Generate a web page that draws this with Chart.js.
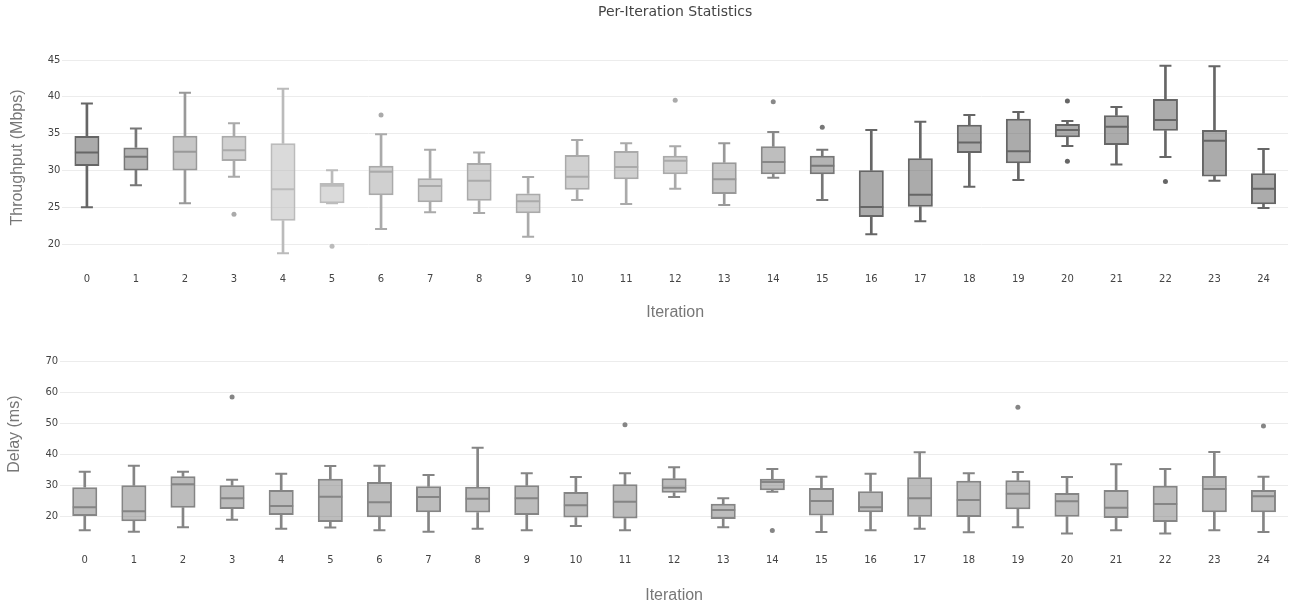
<!DOCTYPE html>
<html>
<head>
<meta charset="utf-8">
<script src="https://cdn.jsdelivr.net/npm/chart.js@4.4.1/dist/chart.umd.min.js"></script>
<style>
  body { margin: 0; background: #fff; }
  #wrap { position: relative; width: 1302px; height: 609px; }
  canvas { position: absolute; left: 0; }
</style>
</head>
<body>
<div id="wrap">
  <canvas id="tputChart" width="1302" height="330" style="top:0"></canvas>
  <canvas id="delayChart" width="1302" height="309" style="top:300px"></canvas>
</div>
<script>
// Iterations on the x axis
const iterations = ['0','1','2','3','4','5','6','7','8','9','10','11','12',
                    '13','14','15','16','17','18','19','20','21','22','23','24'];

// Throughput box stats (Mbps): lower whisker, q1, median, q3, upper whisker
const tputMin = [25.0, 28.0, 25.53, 29.15, 18.73, 25.53, 22.04, 24.3, 24.21, 21.0, 25.98, 25.43, 27.52,
                 25.3, 29.01, 25.98, 21.31, 23.08, 27.79, 28.7, 33.31, 30.82, 31.82, 28.6, 24.89];
const tputQ1 = [30.6, 30.0, 30.0, 31.28, 23.17, 25.53, 26.61, 25.66, 25.89, 24.17, 27.38, 28.79, 29.47,
                26.79, 29.47, 29.47, 23.67, 25.07, 32.36, 30.96, 34.49, 33.45, 35.4, 29.19, 25.39];
const tputMed = [32.45, 31.87, 32.55, 32.73, 27.43, 27.93, 29.83, 27.88, 28.6, 25.8, 29.15, 30.46, 31.32,
                 28.79, 31.14, 30.64, 25.03, 26.7, 33.81, 32.59, 35.49, 35.94, 36.85, 34.04, 27.52];
const tputQ3 = [34.67, 33.13, 34.72, 34.72, 33.68, 28.29, 30.64, 28.92, 31.0, 26.88, 32.09, 32.64, 32.0,
                31.1, 33.27, 32.0, 30.01, 31.64, 36.21, 37.03, 36.3, 37.48, 39.7, 35.49, 29.6];
const tputMax = [39.1, 35.7, 40.56, 36.4, 41.1, 30.01, 34.9, 32.82, 32.45, 29.1, 34.13, 33.68, 33.27,
                 33.68, 35.22, 32.82, 35.49, 36.62, 37.53, 37.93, 36.71, 38.61, 44.23, 44.14, 32.91];
const tputOutliers = [
  {x: '3', y: 24.03}, {x: '5', y: 19.68}, {x: '6', y: 37.53}, {x: '12', y: 39.52},
  {x: '14', y: 39.34}, {x: '15', y: 35.85}, {x: '20', y: 39.43}, {x: '20', y: 31.23},
  {x: '22', y: 28.51}
];
const tputTicks = [20, 25, 30, 35, 40, 45];

// Delay box stats (ms)
const delayMin = [15.47, 15.04, 16.44, 18.92, 16.01, 16.34, 15.47, 15.04, 16.01, 15.47, 16.87, 15.47, 26.25,
                  16.44, 27.97, 14.93, 15.47, 16.01, 14.83, 16.44, 14.4, 15.47, 14.4, 15.47, 14.93];
const delayQ1 = [20.11, 18.38, 22.8, 22.37, 20.43, 18.17, 19.68, 21.29, 21.19, 20.43, 19.57, 19.25, 27.65,
                 19.14, 28.41, 20.22, 21.29, 19.89, 19.78, 22.26, 19.89, 19.46, 18.17, 21.29, 21.29];
const delayMed = [22.91, 21.62, 30.34, 25.82, 23.34, 26.36, 24.53, 26.25, 25.71, 25.82, 23.56, 24.74, 29.27,
                  22.05, 31.1, 24.96, 22.91, 25.82, 25.28, 27.33, 24.85, 22.8, 23.99, 28.84, 26.47];
const delayQ3 = [29.38, 30.02, 32.93, 30.02, 28.51, 32.18, 31.1, 29.7, 29.59, 30.02, 27.87, 30.34, 32.28,
                 24.09, 32.18, 29.16, 28.08, 32.61, 31.53, 31.64, 27.54, 28.51, 29.91, 33.04, 28.51];
const delayMax = [34.44, 36.38, 34.44, 31.85, 33.79, 36.27, 36.38, 33.36, 42.2, 33.9, 32.72, 33.9, 35.84,
                  25.82, 35.3, 32.82, 33.79, 40.69, 33.9, 34.33, 32.72, 36.81, 35.3, 40.8, 32.82];
const delayOutliers = [
  {x: '3', y: 58.58}, {x: '11', y: 49.63}, {x: '14', y: 15.37}, {x: '19', y: 55.24}, {x: '24', y: 49.2}
];
const delayTicks = [20, 30, 40, 50, 60, 70];

// Grey level of each throughput box (styling only)
const tputGrey = [102, 119, 153, 170, 187, 187, 170, 170, 170, 170, 170, 170, 170,
                  153, 136, 119, 102, 102, 102, 102, 102, 102, 102, 102, 102];
const delayGrey = iterations.map(() => 133);

const TICK_FONT = {family: 'DejaVu Sans', size: 10};
const TITLE_FONT = {family: 'Liberation Sans', size: 16};

function greyLine(g) { return `rgb(${g},${g},${g})`; }
function greyFill(g) { return `rgba(${g},${g},${g},0.55)`; }

function capDataset(values, colors, radius) {
  return {
    type: 'line',
    data: values,
    showLine: false,
    pointStyle: 'line',
    pointRadius: radius,
    pointHoverRadius: radius,
    pointBorderWidth: 2,
    pointBorderColor: colors,
    order: 1
  };
}

function createBoxChart(element_id, stats, opts) {
  const lines = opts.grey.map(greyLine);
  const fills = opts.grey.map(greyFill);

  // whiskers as thin floating bars, the box as a floating bar, medians/caps as line-shaped points
  const datasets = [
    {
      data: stats.q1.map((v, i) => [stats.min[i], v]),
      backgroundColor: lines, barThickness: 2, borderWidth: 0,
      grouped: false, order: 5
    },
    {
      data: stats.q3.map((v, i) => [v, stats.max[i]]),
      backgroundColor: lines, barThickness: 2, borderWidth: 0,
      grouped: false, order: 5
    },
    {
      data: stats.q1.map((v, i) => [v, stats.q3[i]]),
      backgroundColor: fills, borderColor: lines, borderWidth: 2,
      borderSkipped: false, barPercentage: 0.51, categoryPercentage: 1,
      grouped: false, order: 3
    },
    capDataset(stats.med, lines, 12),
    capDataset(stats.max, lines, 6),
    capDataset(stats.min, lines, 6),
    {
      type: 'line',
      data: stats.outliers,
      showLine: false,
      pointStyle: 'circle',
      pointRadius: 2.5,
      pointBorderWidth: 0,
      pointBackgroundColor: stats.outliers.map(o => lines[iterations.indexOf(o.x)]),
      order: 0
    }
  ];

  const config = {
    type: 'bar',
    data: { labels: iterations, datasets: datasets },
    options: {
      responsive: false,
      animation: false,
      devicePixelRatio: 1,
      layout: { padding: opts.padding },
      plugins: {
        legend: { display: false },
        tooltip: { enabled: false },
        title: opts.title
      },
      scales: {
        x: {
          type: 'category',
          offset: true,
          grid: { display: false },
          border: { display: false },
          ticks: { font: TICK_FONT, color: '#444', padding: 7, maxRotation: 0, autoSkip: false },
          title: { display: true, text: 'Iteration', font: TITLE_FONT, color: '#777',
                   padding: { top: 0, bottom: opts.xTitlePad } },
          afterFit: (s) => { s.height = opts.xHeight; }
        },
        y: {
          min: opts.yMin,
          max: opts.yMax,
          afterBuildTicks: (s) => { s.ticks = opts.yTicks.map(v => ({ value: v })); },
          grid: { color: '#ececec', lineWidth: 1, drawTicks: false },
          border: { display: false },
          ticks: { font: TICK_FONT, color: '#444', padding: 2 },
          title: { display: true, text: opts.yTitle, font: TITLE_FONT, color: '#777',
                   padding: { top: opts.yTitlePad, bottom: 0 } },
          afterFit: (s) => { s.width = opts.yWidth; }
        }
      }
    }
  };

  const ctx = document.getElementById(element_id).getContext('2d');
  return new Chart(ctx, config);
}

createBoxChart('tputChart',
  { min: tputMin, q1: tputQ1, med: tputMed, q3: tputQ3, max: tputMax, outliers: tputOutliers },
  {
    grey: tputGrey,
    padding: { left: 0, right: 8.4, top: 0, bottom: 0 },
    title: { display: true, text: 'Per-Iteration Statistics', color: '#444', fullSize: false,
             font: { family: 'DejaVu Sans', size: 14, weight: 'normal' },
             padding: { top: 4, bottom: 36.2 } },
    xHeight: 72, xTitlePad: 8,
    yMin: 18.1, yMax: 45.41, yTicks: tputTicks,
    yTitle: 'Throughput (Mbps)', yTitlePad: 8, yWidth: 62.4
  });

createBoxChart('delayChart',
  { min: delayMin, q1: delayQ1, med: delayMed, q3: delayQ3, max: delayMax, outliers: delayOutliers },
  {
    grey: delayGrey,
    padding: { left: 0, right: 2.3, top: 29, bottom: 0 },
    title: { display: false },
    xHeight: 69.7, xTitlePad: 4,
    yMin: 12.56, yMax: 80.57, yTicks: delayTicks,
    yTitle: 'Delay (ms)', yTitlePad: 5.4, yWidth: 60.2
  });
</script>
</body>
</html>
